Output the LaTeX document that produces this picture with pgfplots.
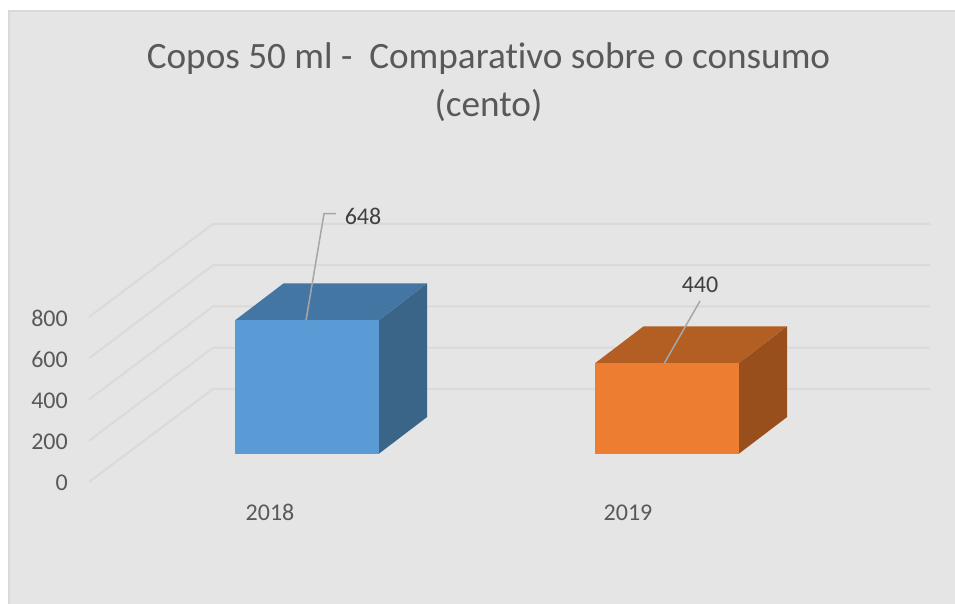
\documentclass[border=0pt]{standalone}
\usepackage{pgfplots}
\pgfplotsset{compat=1.18}
\usepackage{fontspec}
\setmainfont[Ligatures=NoCommon]{Carlito}
\definecolor{panel}{HTML}{E5E5E5}
\definecolor{panelline}{HTML}{D9D9D9}
\definecolor{gridc}{HTML}{DADADA}
\definecolor{txt}{HTML}{595959}
\definecolor{lbl}{HTML}{404040}
\definecolor{leader}{HTML}{A6A6A6}
\definecolor{bluef}{HTML}{5B9BD5}
\definecolor{bluet}{HTML}{4476A3}
\definecolor{blues}{HTML}{3A6488}
\definecolor{oranf}{HTML}{ED7D31}
\definecolor{orant}{HTML}{B35E23}
\definecolor{orans}{HTML}{984F1B}
\begin{document}
\begin{tikzpicture}[x=1pt,y=1pt]
% page and panel, origin sits at the axis corner (89,482 in image pixels)
\useasboundingbox (-89,-122) rectangle (866,482);
\fill[white] (-89,-122) rectangle (866,482);
\fill[panel] (-80,-122) rectangle (866,471);
\draw[panelline,line width=1.5pt] (-80,-122) -- (-80,471) -- (866,471);
\begin{axis}[
    at={(0,0)}, anchor=origin,
    scale only axis,
    width=841pt, height=165pt,
    xmin=89, xmax=930,
    ymin=0, ymax=800,
    clip=false,
    axis line style={draw=none},
    tick style={draw=none},
    major tick length=0pt,
    ytick={0,200,400,600,800},
    xtick={270,628},
    xticklabels={2018,2019},
    /pgf/number format/assume math mode=true,
    tick label style={font=\fontsize{24}{28}\selectfont, text=txt, inner sep=0pt},
    yticklabel style={anchor=east, xshift=-21pt, yshift=-1pt},
    xticklabel style={anchor=base, yshift=-39pt},
]
% floor and back wall lines
\addplot[gridc,line width=2pt] coordinates {(89,0)(213,451)(930,451)};
\addplot[gridc,line width=2pt] coordinates {(89,200)(213,651)(930,651)};
\addplot[gridc,line width=2pt] coordinates {(89,400)(213,851)(930,851)};
\addplot[gridc,line width=2pt] coordinates {(89,600)(213,1051)(930,1051)};
\addplot[gridc,line width=2pt] coordinates {(89,800)(213,1251)(930,1251)};
% 2018
\addplot[fill=blues,draw=none,yshift=28pt] coordinates {(378.5,0)(427,179)(427,827)(378.5,648)} --cycle;
\addplot[fill=bluet,draw=none,yshift=28pt] coordinates {(235,648)(378.5,648)(427,827)(283.5,827)} --cycle;
\addplot[fill=bluef,draw=none,yshift=28pt] coordinates {(235,0)(378.5,0)(378.5,648)(235,648)} --cycle;
% 2019
\addplot[fill=orans,draw=none,yshift=28pt] coordinates {(738.5,0)(787,179)(787,619)(738.5,440)} --cycle;
\addplot[fill=orant,draw=none,yshift=28pt] coordinates {(595,440)(738.5,440)(787,619)(643.5,619)} --cycle;
\addplot[fill=oranf,draw=none,yshift=28pt] coordinates {(595,0)(738.5,0)(738.5,440)(595,440)} --cycle;
% leaders
\addplot[leader,line width=1.5pt,yshift=28pt] coordinates {(306,648)(324,1165)(336,1165)};
\addplot[leader,line width=1.5pt,yshift=28pt] coordinates {(664.3,440)(700,742)};
\node[text=lbl,font=\fontsize{24}{28}\selectfont] at (axis cs:363,1290) {648};
\node[text=lbl,font=\fontsize{24}{28}\selectfont] at (axis cs:700,955) {440};
\end{axis}
\node[text=txt,align=center,font=\fontsize{37.2}{48}\selectfont] at (399.5,400) {Copos 50 ml -\ \ Comparativo sobre o consumo\\(cento)};
\end{tikzpicture}
\end{document}
